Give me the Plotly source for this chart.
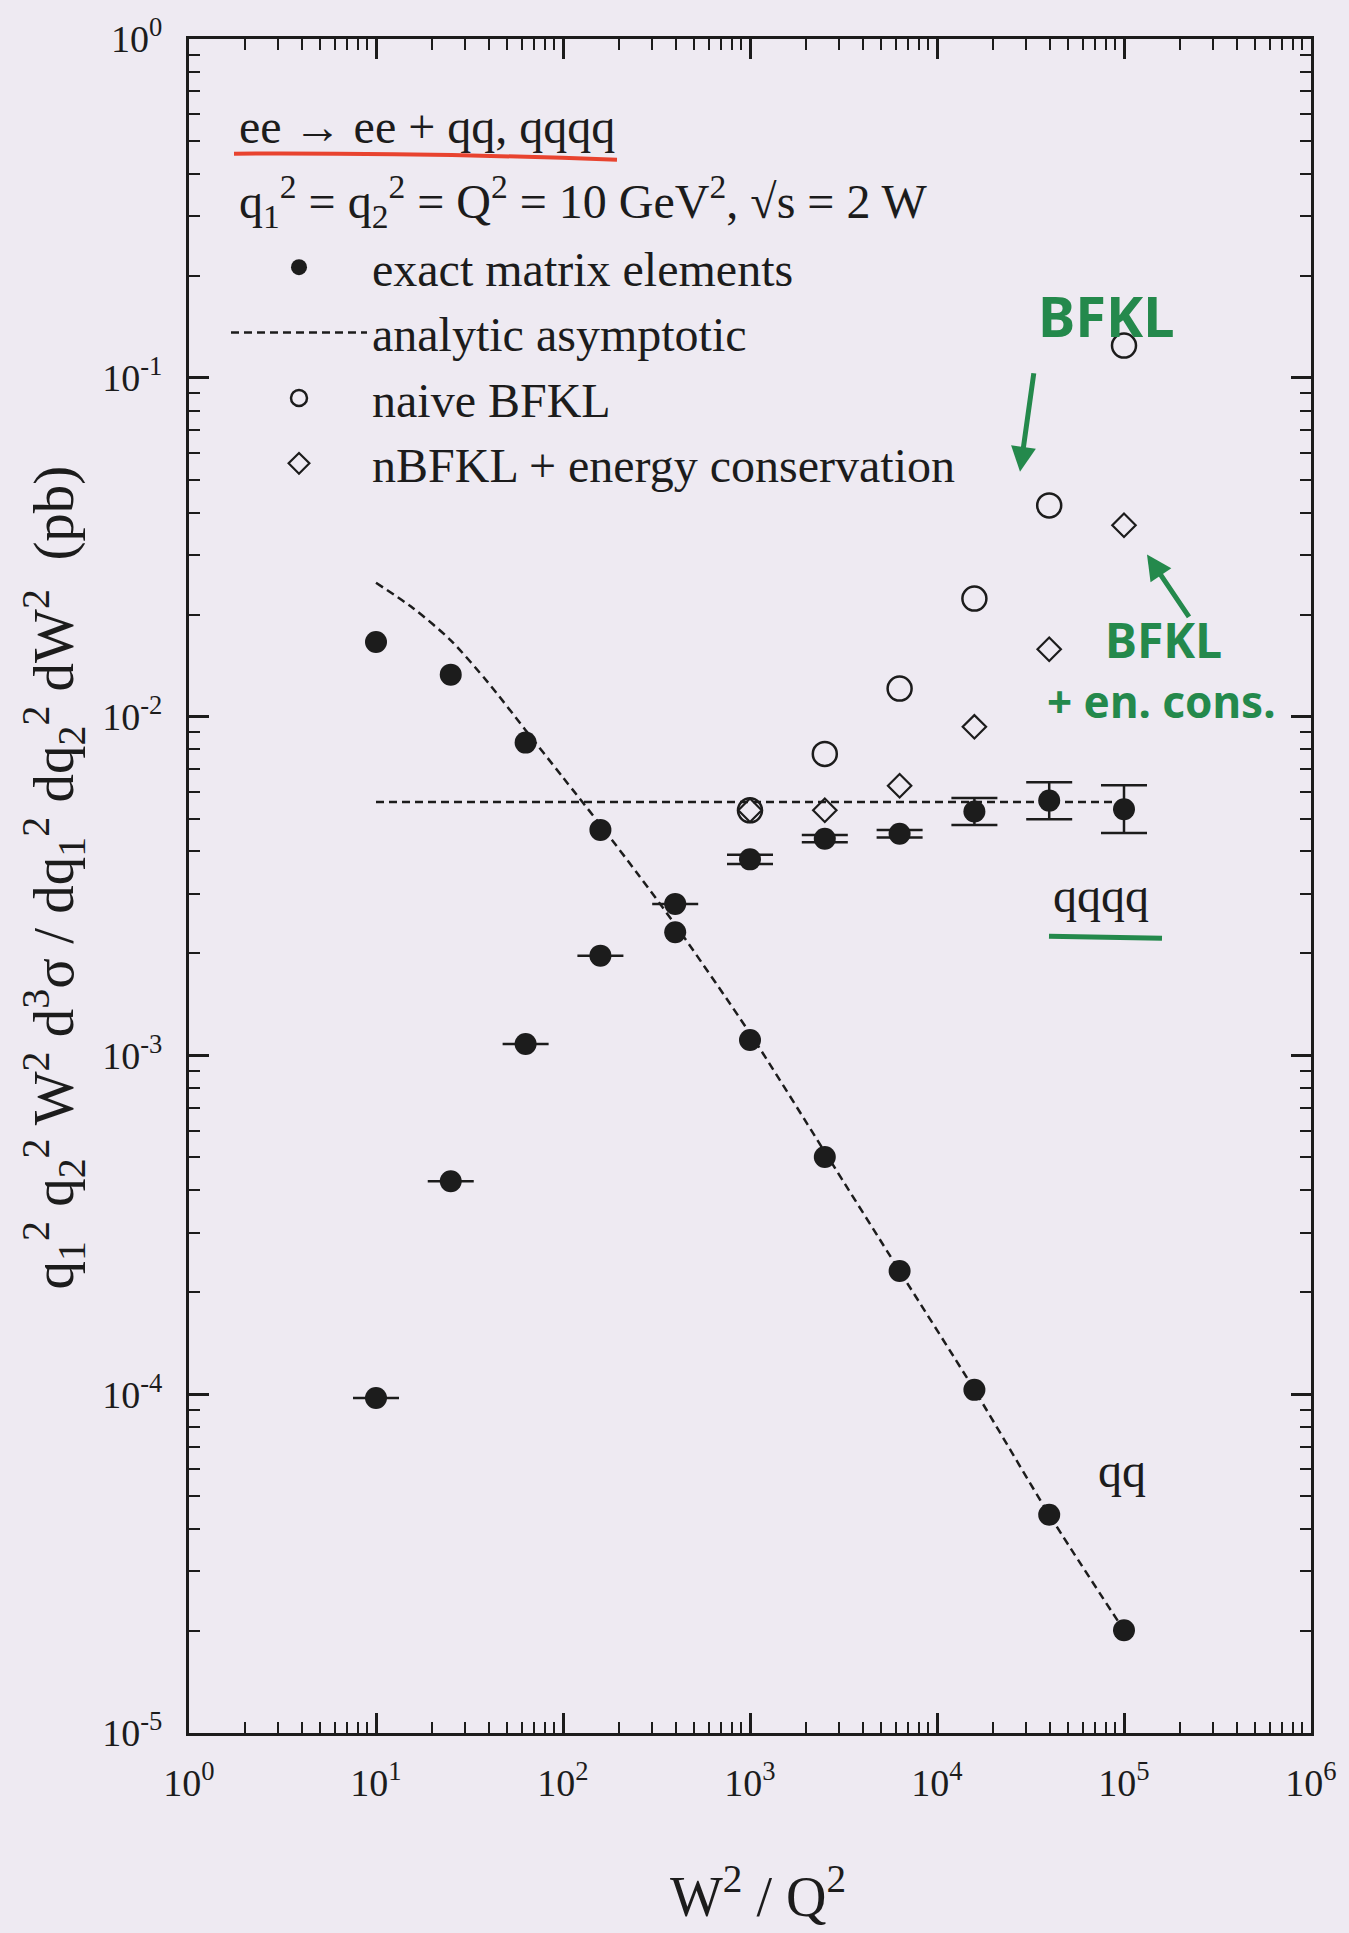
import plotly.graph_objects as go

# ---------------- data ----------------
x_bins = [10, 25.1, 63.1, 158.5, 398.1, 1000, 2512, 6310, 15849, 39811, 100000]

# exact matrix elements, ee -> ee + qq
qq_exact = [0.0166, 0.0133, 0.00838, 0.00463, 0.00231, 0.00111,
            5.01e-4, 2.31e-4, 1.03e-4, 4.41e-5, 2.01e-5]

# exact matrix elements, ee -> ee + qqqq (with MC errors)
qqqq_exact = [9.75e-5, 4.25e-4, 1.08e-3, 1.97e-3, 2.80e-3, 3.79e-3,
              4.36e-3, 4.51e-3, 5.25e-3, 5.65e-3, 5.33e-3]
qqqq_err_plus = [0, 0, 0, 0, 0, 1.2e-4, 1.1e-4, 1.15e-4, 5.0e-4, 7.5e-4, 9.4e-4]
qqqq_err_minus = [0, 0, 0, 0, 0, 1.15e-4, 1.05e-4, 1.1e-4, 4.6e-4, 6.7e-4, 8.0e-4]

# naive BFKL and BFKL + energy conservation
bfkl_x = [1000, 2512, 6310, 15849, 39811, 100000]
naive_bfkl = [5.29e-3, 7.76e-3, 0.0121, 0.0223, 0.0420, 0.1245]
bfkl_encons = [5.29e-3, 5.29e-3, 6.25e-3, 9.33e-3, 0.0158, 0.0367]

# analytic asymptotic curves
asym_qq_x = [10, 15.8, 25.1, 39.8, 63.1, 100, 158.5, 251.2, 398.1, 1000,
             2512, 6310, 15849, 39811, 100000]
asym_qq_y = [0.02483, 0.02089, 0.01679, 0.01259, 0.00912, 0.00661, 0.00479,
             0.00343, 0.00243, 0.001161, 5.19e-4, 2.31e-4, 1.03e-4, 4.41e-5, 2.01e-5]
asym_qqqq_x = [10, 100000]
asym_qqqq_y = [5.6e-3, 5.6e-3]

x_tickvals = [1, 10, 100, 1000, 1e4, 1e5, 1e6]
x_ticktext = ["10<sup>0</sup>", "10<sup>1</sup>", "10<sup>2</sup>", "10<sup>3</sup>",
              "10<sup>4</sup>", "10<sup>5</sup>", "10<sup>6</sup>"]
y_tickvals = [1e-5, 1e-4, 1e-3, 1e-2, 1e-1, 1]
y_ticktext = ["10<sup>-5</sup>", "10<sup>-4</sup>", "10<sup>-3</sup>",
              "10<sup>-2</sup>", "10<sup>-1</sup>", "10<sup>0</sup>"]

# ---------------- style ----------------
INK = "#1c1c1c"
BG = "#eeeaf2"
GREEN = "#24894c"
RED = "#e8432f"
SERIF = "Liberation Serif, Times New Roman, serif"
HAND = "Noto Sans, sans-serif"

W, H = 1349, 1933
L, R, T, B = 189, 1311, 34, 1733


def px(X):
    return (X - L) / (R - L)


def py(Y):
    return (B - Y) / (B - T)


fig = go.Figure()

DASH = "8px,5px"
fig.add_trace(go.Scatter(
    x=asym_qq_x, y=asym_qq_y, mode="lines", name="analytic asymptotic",
    line=dict(color=INK, width=2.5, dash=DASH, shape="spline", smoothing=0.8),
    legendrank=2, legendgroup="b"))
fig.add_trace(go.Scatter(
    x=asym_qqqq_x, y=asym_qqqq_y, mode="lines", showlegend=False,
    line=dict(color=INK, width=2.5, dash=DASH)))

fig.add_trace(go.Scatter(
    x=bfkl_x, y=naive_bfkl, mode="markers", name="naive BFKL",
    marker=dict(symbol="circle-open", size=24, color=INK, line=dict(width=2.5)),
    legendrank=3, legendgroup="c"))
fig.add_trace(go.Scatter(
    x=bfkl_x, y=bfkl_encons, mode="markers", name="nBFKL + energy conservation",
    marker=dict(symbol="diamond-open", size=18, color=INK, line=dict(width=2.2)),
    legendrank=4, legendgroup="d"))

fig.add_trace(go.Scatter(
    x=x_bins, y=qqqq_exact, mode="markers", showlegend=False,
    marker=dict(symbol="circle", size=22, color=INK),
    error_y=dict(type="data", symmetric=False, array=qqqq_err_plus,
                 arrayminus=qqqq_err_minus, width=23, thickness=2.5, color=INK)))
fig.add_trace(go.Scatter(
    x=x_bins, y=qq_exact, mode="markers", name="exact matrix elements",
    marker=dict(symbol="circle", size=22, color=INK),
    legendrank=1, legendgroup="a"))

x_minor = [m * 10 ** k for k in range(0, 6) for m in range(2, 10)]
y_minor = [m * 10 ** k for k in range(-5, 0) for m in range(2, 10)]

axis_common = dict(
    type="log", showgrid=False, zeroline=False, showline=True, linewidth=3,
    linecolor=INK, mirror="allticks", ticks="inside", ticklen=20, tickwidth=2.5,
    tickcolor=INK, tickmode="array",
    tickfont=dict(family=SERIF, size=38, color=INK),
)

fig.update_xaxes(**axis_common, range=[0, 6], tickvals=x_tickvals, ticktext=x_ticktext,
                 ticklabelstandoff=14,
                 minor=dict(tickmode="array", tickvals=x_minor, ticks="inside",
                            ticklen=11, tickwidth=2, tickcolor=INK, showgrid=False))
fig.update_yaxes(**axis_common, range=[-5, 0], tickvals=y_tickvals, ticktext=y_ticktext,
                 ticklabelstandoff=16,
                 minor=dict(tickmode="array", tickvals=y_minor, ticks="inside",
                            ticklen=11, tickwidth=2, tickcolor=INK, showgrid=False))

annotations = [
    dict(text="W<sup>2</sup> / Q<sup>2</sup>", x=px(758), y=py(1893),
         font=dict(size=56)),
    dict(text="q<sub>1</sub><sup>2</sup> q<sub>2</sub><sup>2</sup> W<sup>2</sup> "
              "d<sup>3</sup>σ / dq<sub>1</sub><sup>2</sup> dq<sub>2</sub><sup>2</sup> "
              "dW<sup>2</sup>  (pb)",
         x=px(54), y=py(875), textangle=-90, font=dict(size=57)),
    dict(text="ee → ee + qq, qqqq", x=px(237), y=py(122), xanchor="left",
         font=dict(size=48)),
    dict(text="q<sub>1</sub><sup>2</sup> = q<sub>2</sub><sup>2</sup> = Q<sup>2</sup> = "
              "10 GeV<sup>2</sup>, √s = 2 W",
         x=px(237), y=py(197), xanchor="left", font=dict(size=48)),
    dict(text="qqqq", x=px(1101), y=py(893), font=dict(size=48)),
    dict(text="qq", x=px(1122), y=py(1470), font=dict(size=48)),
    # handwritten green notes
    dict(text="<b>BFKL</b>", x=px(1106), y=py(311),
         font=dict(size=56, color=GREEN, family=HAND)),
    dict(text="<b>BFKL</b>", x=px(1163), y=py(636),
         font=dict(size=48, color=GREEN, family=HAND)),
    dict(text="<b>+ en. cons.</b>", x=px(1161), y=py(698),
         font=dict(size=44, color=GREEN, family=HAND)),
    dict(text="", x=px(1020), y=py(468), ax=14, ay=-100,
         showarrow=True, arrowhead=2, arrowsize=1,
         arrowwidth=5, arrowcolor=GREEN),
    dict(text="", x=px(1147), y=py(551), ax=43, ay=64,
         showarrow=True, arrowhead=2, arrowsize=1,
         arrowwidth=5, arrowcolor=GREEN),
]
for a in annotations:
    a.setdefault("xref", "paper")
    a.setdefault("yref", "paper")
    a.setdefault("showarrow", False)
    a.setdefault("xanchor", "center")
    a.setdefault("yanchor", "middle")
    f = a.setdefault("font", {})
    f.setdefault("family", SERIF)
    f.setdefault("color", INK)

shapes = [
    dict(type="path", xref="paper", yref="paper",
         path=f"M {px(234)},{py(149)} Q {px(420)},{py(148)} {px(617)},{py(155)}",
         line=dict(color=RED, width=4)),
    dict(type="line", xref="paper", yref="paper",
         x0=px(1049), x1=px(1162), y0=py(934), y1=py(936),
         line=dict(color=GREEN, width=5)),
]

fig.update_layout(
    width=W, height=H,
    margin=dict(l=L, r=W - R, t=T, b=H - B),
    paper_bgcolor=BG, plot_bgcolor=BG,
    font=dict(family=SERIF, color=INK),
    showlegend=True,
    legend=dict(x=px(226), y=py(225), xanchor="left", yanchor="top",
                bgcolor="rgba(0,0,0,0)", borderwidth=0, itemwidth=136,
                tracegroupgap=12, traceorder="normal",
                font=dict(family=SERIF, size=48, color=INK)),
    annotations=annotations,
    shapes=shapes,
)

fig.write_html("out.html")
